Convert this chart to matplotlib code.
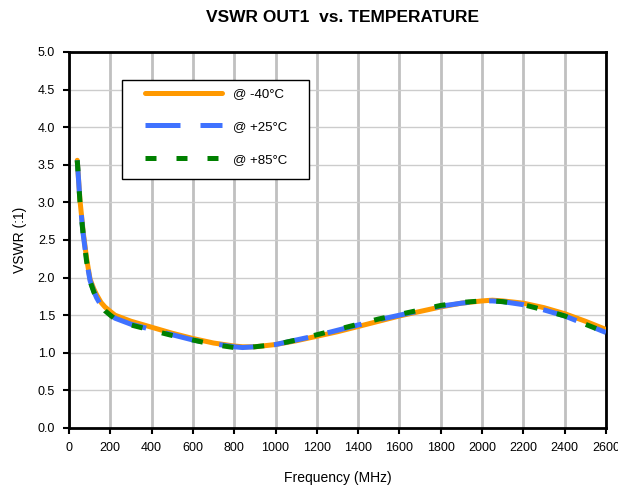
import matplotlib
matplotlib.use("Agg")
import matplotlib.pyplot as plt
from matplotlib.patches import Rectangle
import numpy as np

plt.rcParams['font.family'] = ['Liberation Sans', 'DejaVu Sans']

freq = [40, 53, 69, 86, 102, 120, 134, 155, 174, 200, 223, 300, 400, 500, 600, 700, 800, 840, 900, 1000, 1100, 1200, 1300, 1400, 1500, 1600, 1700, 1800, 1900, 2000, 2050, 2100, 2200, 2300, 2400, 2500, 2600]
vswr_m40 = [3.56, 3.03, 2.60, 2.24, 1.98, 1.85, 1.77, 1.67, 1.61, 1.55, 1.50, 1.42, 1.34, 1.26, 1.19, 1.13, 1.09, 1.08, 1.08, 1.11, 1.16, 1.22, 1.28, 1.35, 1.42, 1.49, 1.55, 1.61, 1.66, 1.69, 1.70, 1.69, 1.66, 1.60, 1.52, 1.42, 1.31]
vswr_p25 = [3.56, 3.02, 2.57, 2.21, 1.96, 1.82, 1.73, 1.63, 1.57, 1.51, 1.46, 1.38, 1.31, 1.24, 1.17, 1.12, 1.08, 1.07, 1.08, 1.11, 1.17, 1.23, 1.30, 1.37, 1.44, 1.50, 1.56, 1.62, 1.66, 1.69, 1.69, 1.68, 1.64, 1.57, 1.49, 1.38, 1.27]
vswr_p85 = [3.56, 3.01, 2.56, 2.20, 1.95, 1.81, 1.72, 1.62, 1.56, 1.50, 1.45, 1.37, 1.30, 1.23, 1.17, 1.11, 1.07, 1.06, 1.08, 1.11, 1.17, 1.24, 1.31, 1.38, 1.45, 1.51, 1.57, 1.63, 1.67, 1.69, 1.69, 1.68, 1.64, 1.57, 1.49, 1.38, 1.27]

labels = ['@ -40°C', '@ +25°C', '@ +85°C']

fig = plt.figure(figsize=(6.18, 4.87), dpi=100)
ax = fig.add_axes([69/618, 1-428/487, (606-69)/618, (428-52)/487])

ax.plot(freq, vswr_m40, color='#FF9900', lw=3.6, solid_capstyle='round', label=labels[0], zorder=3)
ax.plot(freq, vswr_p25, color='#3F72FF', lw=3.6, dashes=(7, 4), label=labels[1], zorder=4)
ax.plot(freq, vswr_p85, color='#008000', lw=3.6, dashes=(2.2, 4), label=labels[2], zorder=5)

ax.set_xlim(0, 2600)
ax.set_ylim(0, 5)
ax.set_xticks(np.arange(0, 2601, 200))
ax.set_yticks(np.arange(0, 5.01, 0.5))
ax.set_yticklabels([f"{v:.1f}" for v in np.arange(0, 5.01, 0.5)])
ax.xaxis.grid(True, color='#C0C0C0', lw=2.0)
ax.yaxis.grid(True, color='#CCCCCC', lw=1.0)
ax.set_axisbelow(True)
for s in ax.spines.values():
    s.set_color('black')
    s.set_linewidth(2.0)
ax.tick_params(axis='both', labelsize=9, length=4, width=1.5, direction='out', color='black', pad=6)

ax.set_xlabel('Frequency (MHz)', fontsize=10, labelpad=12)
ax.set_ylabel('VSWR (:1)', fontsize=10, labelpad=8)
fig.text(342/618, 1-18/487, 'VSWR OUT1  vs. TEMPERATURE', ha='center', va='center', fontsize=12.5, fontweight='bold')

# legend frame drawn separately (wider side padding than top/bottom)
ax_w, ax_h = 606 - 69, 428 - 52
frame = Rectangle(((122 - 69) / ax_w, (428 - 179) / ax_h), (309 - 122) / ax_w, (179 - 80) / ax_h,
                  transform=ax.transAxes, facecolor='white', edgecolor='black', lw=1.0, zorder=6)
ax.add_patch(frame)
leg = ax.legend(loc='upper left', bbox_to_anchor=((145 - 69) / ax_w, (428 - 88) / ax_h), fontsize=9.5,
                frameon=False, handlelength=5.8, handletextpad=0.9,
                labelspacing=1.55, borderpad=0, borderaxespad=0)
leg.set_zorder(7)

fig.savefig('out.png', dpi=100)
